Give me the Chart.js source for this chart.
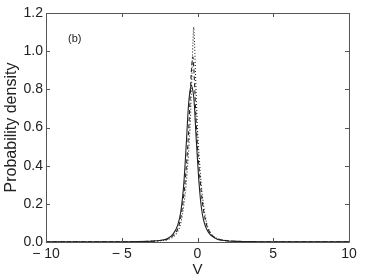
<!DOCTYPE html>
<html>
<head>
<meta charset="utf-8">
<script src="https://cdn.jsdelivr.net/npm/chart.js@4"></script>
<style>
  html, body { margin: 0; padding: 0; background: #fff; }
  #wrap { width: 374px; height: 280px; }
</style>
</head>
<body>
<div id="wrap"><canvas id="chart" width="374" height="280"></canvas></div>
<script>
// V values shared by the three curves
const vValues = [-10, -8, -6, -5, -4, -3, -2.5, -2, -1.6, -1.3, -1.1, -0.9, -0.75, -0.6, -0.5, -0.4,
  -0.3, -0.25, -0.2, -0.1, 0, 0.1, 0.25, 0.4, 0.6, 0.8, 1, 1.3, 1.6, 2, 2.5, 3, 4, 5, 6, 8, 10];

// solid curve (lowest, widest peak)
const solidDensity = [0.0005, 0.0007, 0.001, 0.0015, 0.002, 0.0045, 0.008, 0.017, 0.043, 0.09, 0.16, 0.31, 0.50, 0.71, 0.79, 0.82,
  0.79, 0.76, 0.71, 0.56, 0.43, 0.31, 0.185, 0.115, 0.068, 0.043, 0.028, 0.014, 0.009, 0.0055, 0.0035, 0.0025, 0.0016, 0.001, 0.0008, 0.0006, 0.0005];

// dashed curve
const dashedDensity = [0.0005, 0.0006, 0.0009, 0.0013, 0.002, 0.004, 0.0075, 0.015, 0.035, 0.07, 0.13, 0.25, 0.38, 0.56, 0.73, 0.90,
  0.97, 0.92, 0.84, 0.65, 0.50, 0.39, 0.26, 0.165, 0.09, 0.052, 0.032, 0.017, 0.011, 0.0065, 0.004, 0.0026, 0.0015, 0.0011, 0.0009, 0.0006, 0.0005];

// dotted curve (highest, sharpest peak)
const dottedDensity = [0.0004, 0.0005, 0.0008, 0.0012, 0.0018, 0.0035, 0.006, 0.013, 0.027, 0.057, 0.10, 0.195, 0.30, 0.46, 0.59, 0.80,
  1.05, 1.125, 1.05, 0.80, 0.59, 0.46, 0.30, 0.195, 0.10, 0.057, 0.033, 0.018, 0.011, 0.006, 0.0035, 0.0025, 0.0015, 0.001, 0.0008, 0.0005, 0.0004];

const xTicks = [-10, -5, 0, 5, 10];
const yTicks = [0, 0.2, 0.4, 0.6, 0.8, 1.0, 1.2];

function toPoints(ys) {
  return vValues.map((v, i) => ({ x: v, y: ys[i] }));
}

// box around the plot and ticks pointing inwards, like the original figure
const boxTicks = {
  id: 'boxTicks',
  afterDraw(chart) {
    const ctx = chart.ctx;
    const a = chart.chartArea;
    const xs = chart.scales.x, ys = chart.scales.y;
    ctx.save();
    ctx.strokeStyle = '#555';
    ctx.lineWidth = 1;
    ctx.beginPath();
    ctx.rect(Math.round(a.left) + 0.5, Math.round(a.top) + 0.5, Math.round(a.right - a.left), Math.round(a.bottom - a.top));
    xTicks.forEach(t => {
      const px = Math.round(xs.getPixelForValue(t)) + 0.5;
      ctx.moveTo(px, a.bottom); ctx.lineTo(px, a.bottom - 4);
      ctx.moveTo(px, a.top); ctx.lineTo(px, a.top + 4);
    });
    yTicks.forEach(t => {
      const py = Math.round(ys.getPixelForValue(t)) + 0.5;
      ctx.moveTo(a.left, py); ctx.lineTo(a.left + 4, py);
      ctx.moveTo(a.right, py); ctx.lineTo(a.right - 4, py);
    });
    ctx.stroke();
    ctx.fillStyle = '#222';
    ctx.font = '11px "Liberation Sans", Arial, sans-serif';
    ctx.textBaseline = 'middle';
    ctx.fillText('(b)', 68, 39);
    ctx.restore();
  }
};

const lineStyle = { borderColor: '#222', borderWidth: 1.1, pointRadius: 0, fill: false, cubicInterpolationMode: 'monotone' };

new Chart(document.getElementById('chart'), {
  type: 'line',
  data: {
    datasets: [
      Object.assign({ label: 'solid', data: toPoints(solidDensity) }, lineStyle),
      Object.assign({ label: 'dashed', data: toPoints(dashedDensity), borderDash: [4, 3] }, lineStyle),
      Object.assign({ label: 'dotted', data: toPoints(dottedDensity), borderDash: [1, 2] }, lineStyle)
    ]
  },
  options: {
    responsive: false,
    animation: false,
    layout: { padding: { top: 13, right: 25, left: 0, bottom: 0 } },
    plugins: { legend: { display: false }, tooltip: { enabled: false } },
    scales: {
      x: {
        type: 'linear', min: -10, max: 10,
        afterFit: s => { s.height = 38; },
        afterBuildTicks: s => { s.ticks = xTicks.map(v => ({ value: v })); },
        grid: { display: false, drawTicks: false },
        border: { display: false },
        ticks: {
          padding: 4, color: '#222', maxRotation: 0,
          font: { family: '"Liberation Sans", Arial, sans-serif', size: 14 },
          callback: v => v < 0 ? '\u2212 ' + Math.abs(v) : String(v)
        },
        title: {
          display: true, text: 'V', color: '#222', padding: { top: 0, bottom: 3 },
          font: { family: '"Liberation Sans", Arial, sans-serif', size: 15, lineHeight: 1 }
        }
      },
      y: {
        min: 0, max: 1.2,
        afterFit: s => { s.width = 46; },
        afterBuildTicks: s => { s.ticks = yTicks.map(v => ({ value: v })); },
        grid: { display: false, drawTicks: false },
        border: { display: false },
        ticks: {
          padding: 3, color: '#222',
          font: { family: '"Liberation Sans", Arial, sans-serif', size: 14 },
          callback: v => v.toFixed(1)
        },
        title: {
          display: true, text: 'Probability density', color: '#222', padding: { top: 4, bottom: 0 },
          font: { family: '"Liberation Sans", Arial, sans-serif', size: 16, lineHeight: 1 }
        }
      }
    }
  },
  plugins: [boxTicks]
});
</script>
</body>
</html>
